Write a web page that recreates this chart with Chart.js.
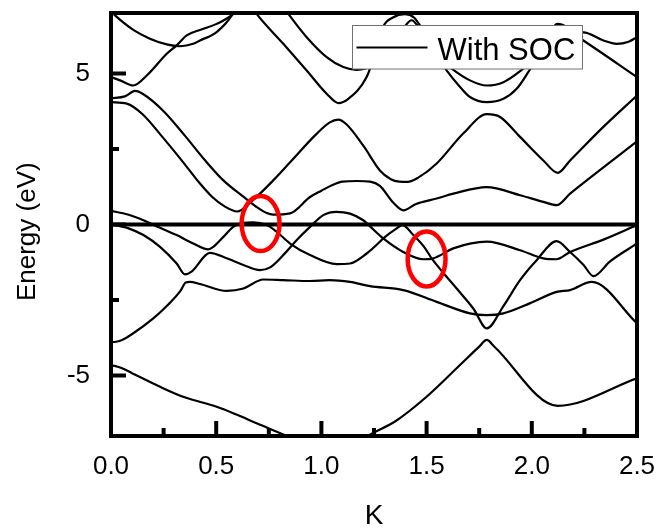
<!DOCTYPE html>
<html>
<head>
<meta charset="utf-8">
<script src="https://cdn.jsdelivr.net/npm/chart.js@4.4.1/dist/chart.umd.min.js"></script>
<style>
  html, body { margin: 0; padding: 0; background: #fff; }
  #wrap { width: 660px; height: 531px; position: relative; }
</style>
</head>
<body>
<div id="wrap"><canvas id="bands"></canvas></div>
<script>
// Band energies E (eV) sampled along the k path, one pair of arrays per band
const k1 = [0, 0.05, 0.1, 0.233, 0.35, 0.502, 0.6, 0.692, 0.835, 0.95, 1.05, 1.15, 1.231, 1.35, 1.5, 1.65, 1.75, 1.786, 1.82, 2.123, 2.5];
const e1 = [-4.65, -4.75, -4.92, -5.37, -5.72, -6.03, -6.3, -6.58, -7.0, -7.4, -7.55, -7.35, -6.96, -6.52, -5.70, -4.71, -4.04, -3.82, -4.03, -6.0, -5.09];

const k2 = [0, 0.05, 0.106, 0.201, 0.265, 0.33, 0.355, 0.375, 0.423, 0.55, 0.629, 0.724, 0.819, 0.946, 1.04, 1.136, 1.231, 1.389, 1.548, 1.706, 1.786, 1.865, 1.99, 2.118, 2.182, 2.285, 2.5];
const e2 = [-3.91, -3.83, -3.6, -3.11, -2.7, -2.2, -1.92, -1.9, -1.97, -2.2, -2.12, -1.82, -1.84, -1.87, -1.84, -1.9, -2.04, -2.17, -2.56, -2.94, -3.0, -2.94, -2.61, -2.23, -2.17, -1.9, -3.27];

const k3 = [0, 0.08, 0.154, 0.233, 0.312, 0.352, 0.383, 0.47, 0.55, 0.629, 0.708, 0.756, 0.819, 0.882, 0.946, 1.009, 1.072, 1.136, 1.199, 1.231, 1.294, 1.389, 1.484, 1.532, 1.627, 1.786, 1.944, 2.055, 2.118, 2.182, 2.341, 2.5];
const e3 = [0.01, -0.12, -0.35, -0.74, -1.29, -1.65, -1.56, -0.94, -1.12, -1.34, -1.51, -1.42, -1.01, -0.52, -0.08, 0.31, 0.42, 0.36, 0.14, -0.06, -0.46, -0.91, -1.15, -1.12, -0.79, -0.57, -0.85, -1.12, -1.15, -0.91, -0.50, -0.02];

const k4 = [0, 0.08, 0.154, 0.23, 0.312, 0.391, 0.462, 0.486, 0.534, 0.581, 0.621, 0.676, 0.74, 0.787, 0.851, 0.946, 1.072, 1.136, 1.215, 1.278, 1.294, 1.358, 1.385, 1.437, 1.488, 1.524, 1.571, 1.643, 1.722, 1.786, 1.865, 1.944, 2.023, 2.118, 2.182, 2.246, 2.293, 2.372, 2.5];
const e4 = [0.45, 0.33, 0.14, -0.1, -0.35, -0.63, -0.82, -0.74, -0.41, -0.08, 0.05, 0.07, -0.02, -0.24, -0.63, -1.01, -1.31, -1.29, -0.96, -0.57, -0.46, -0.13, -0.02, -0.35, -0.74, -1.12, -1.53, -2.12, -2.78, -3.44, -2.7, -1.84, -1.18, -0.55, -0.91, -1.34, -1.71, -1.22, -0.63];

const k5 = [0, 0.075, 0.15, 0.25, 0.35, 0.42, 0.48, 0.54, 0.6, 0.664, 0.771, 0.85, 0.977, 1.04, 1.08, 1.12, 1.2, 1.278, 1.33, 1.37, 1.41, 1.46, 1.548, 1.674, 1.786, 1.849, 1.944, 2.055, 2.123, 2.182, 2.34, 2.5];
const e5 = [4.05, 4.0, 3.65, 2.85, 2.0, 1.38, 0.92, 0.6, 0.43, 0.74, 1.46, 2.05, 3.0, 3.38, 3.47, 3.31, 2.6, 1.79, 1.5, 1.42, 1.41, 1.55, 2.02, 3.01, 3.65, 3.56, 2.9, 2.12, 1.71, 2.12, 3.23, 4.27];

const k6 = [0, 0.066, 0.114, 0.154, 0.25, 0.35, 0.45, 0.534, 0.629, 0.692, 0.74, 0.771, 0.851, 0.946, 1.0, 1.05, 1.1, 1.17, 1.231, 1.278, 1.342, 1.389, 1.45, 1.548, 1.627, 1.786, 1.944, 2.055, 2.118, 2.182, 2.261, 2.5];
const e6 = [4.18, 4.24, 4.42, 4.31, 3.75, 2.95, 2.1, 1.46, 0.92, 0.58, 0.38, 0.33, 0.37, 0.91, 1.12, 1.3, 1.42, 1.44, 1.42, 1.28, 0.72, 0.47, 0.68, 0.86, 1.02, 1.24, 0.97, 0.75, 0.64, 1.02, 1.46, 2.75];

const k7 = [0, 0.043, 0.106, 0.17, 0.265, 0.312, 0.36, 0.423, 0.502, 0.581, 0.62];
const e7 = [4.88, 4.77, 4.6, 4.93, 5.65, 5.93, 6.26, 6.44, 6.64, 6.97, 7.3];

const k8 = [0, 0.019, 0.106, 0.185, 0.265, 0.328, 0.391, 0.423, 0.502, 0.574, 0.6];
const e8 = [7.05, 6.92, 6.44, 6.15, 5.96, 5.9, 5.98, 6.09, 6.37, 6.92, 7.3];

const k9 = [0.65, 0.692, 0.819, 0.93, 1.025, 1.08, 1.128, 1.215, 1.25, 1.294, 1.34, 1.397, 1.44, 1.469, 1.52, 1.595, 1.659, 1.706, 1.786, 1.865, 1.928, 1.983, 2.05, 2.123, 2.245, 2.5];
const e9 = [7.4, 6.97, 5.98, 5.10, 4.33, 4.02, 4.16, 4.88, 5.55, 6.55, 6.85, 6.96, 6.85, 6.58, 5.9, 5.10, 4.55, 4.22, 4.05, 4.16, 4.49, 5.04, 5.8, 6.64, 6.09, 4.88];

const k10 = [0.8, 0.843, 0.93, 1.025, 1.104, 1.167, 1.25, 1.33, 1.39, 1.429, 1.46, 1.52, 1.57, 1.619, 1.706, 1.786, 1.865, 1.96, 2.05, 2.12, 2.18, 2.245, 2.34, 2.403, 2.46, 2.5];
const e10 = [7.4, 6.97, 6.2, 5.54, 5.21, 5.12, 5.3, 5.9, 6.5, 6.76, 6.55, 5.9, 5.45, 5.16, 4.77, 4.6, 4.71, 5.16, 5.7, 6.1, 6.3, 6.36, 6.09, 5.98, 6.05, 6.2];

// Fermi level reference line
const fermiK = [0, 2.5];
const fermiE = [0, 0];

// Axis tick labels
const kTicks = [0, 0.5, 1.0, 1.5, 2.0, 2.5];
const eTicks = [-5, 0, 5];

const seriesLabel = 'With SOC';

const FONT = '"Liberation Sans", Arial, Helvetica, sans-serif';
Chart.defaults.font.family = FONT;
Chart.defaults.color = '#000';

const bandK = [k1, k2, k3, k4, k5, k6, k7, k8, k9, k10];
const bandE = [e1, e2, e3, e4, e5, e6, e7, e8, e9, e10];

const datasets = bandK.map((ks, b) => ({
  label: b === 0 ? seriesLabel : '',
  data: ks.map((k, i) => ({ x: k, y: bandE[b][i] })),
  borderColor: '#000',
  borderWidth: 2.2,
  pointRadius: 0,
  fill: false,
  cubicInterpolationMode: 'monotone'
}));
datasets.push({
  label: '',
  data: fermiK.map((k, i) => ({ x: k, y: fermiE[i] })),
  borderColor: '#000',
  borderWidth: 4,
  pointRadius: 0,
  fill: false,
  tension: 0
});

// Keep the plot rectangle fixed: no extra room reserved for edge labels
function noEdgePadding(s) {
  s.paddingLeft = 0; s.paddingRight = 0; s.paddingTop = 0; s.paddingBottom = 0;
}

// Box frame plus inward major/minor tick marks on the bottom and left axes
const framePlugin = {
  id: 'framePlugin',
  afterDatasetsDraw(chart) {
    const { ctx, chartArea: a, scales: { x, y } } = chart;
    ctx.save();
    ctx.strokeStyle = '#000';
    ctx.lineCap = 'butt';
    ctx.lineWidth = 4;
    ctx.beginPath();
    const xs = x.ticks.map(t => t.value);
    xs.forEach((v, i) => {
      const p = x.getPixelForValue(v);
      ctx.moveTo(p, a.bottom); ctx.lineTo(p, a.bottom - 15);
      if (i < xs.length - 1) {
        const m = x.getPixelForValue((v + xs[i + 1]) / 2);
        ctx.moveTo(m, a.bottom); ctx.lineTo(m, a.bottom - 8);
      }
    });
    const ys = y.ticks.map(t => t.value);
    ys.forEach((v, i) => {
      const p = y.getPixelForValue(v);
      ctx.moveTo(a.left, p); ctx.lineTo(a.left + 15, p);
      if (i < ys.length - 1) {
        const m = y.getPixelForValue((v + ys[i + 1]) / 2);
        ctx.moveTo(a.left, m); ctx.lineTo(a.left + 8, m);
      }
    });
    ctx.stroke();
    ctx.strokeRect(a.left, a.top, a.right - a.left, a.bottom - a.top);
    ctx.restore();
  }
};

// Boxed legend inside the plot area, upper right
const boxLegend = {
  id: 'boxLegend',
  afterDraw(chart) {
    const { ctx, chartArea: a } = chart;
    const ds = chart.data.datasets[0];
    const w = 230, h = 43.5;
    const bx = a.right - 54.5 - w, by = a.top + 12.5;
    ctx.save();
    ctx.fillStyle = '#fff';
    ctx.fillRect(bx, by, w, h);
    ctx.strokeStyle = '#707070';
    ctx.lineWidth = 1;
    ctx.strokeRect(bx, by, w, h);
    ctx.strokeStyle = ds.borderColor;
    ctx.lineWidth = 2;
    ctx.beginPath();
    ctx.moveTo(bx + 4, by + 22);
    ctx.lineTo(bx + 75, by + 22);
    ctx.stroke();
    ctx.fillStyle = '#000';
    ctx.font = '31px ' + FONT;
    ctx.textBaseline = 'alphabetic';
    ctx.textAlign = 'left';
    ctx.fillText(ds.label, bx + 85, by + 34);
    ctx.restore();
  }
};

// Red ring highlights, placed in (k, E) coordinates
const ringMarks = {
  id: 'ringMarks',
  afterDraw(chart, args, opts) {
    const { ctx, scales: { x, y } } = chart;
    ctx.save();
    ctx.strokeStyle = opts.color;
    ctx.lineWidth = opts.width;
    opts.rings.forEach(r => {
      const cx = x.getPixelForValue(r.k), cy = y.getPixelForValue(r.e);
      const rx = Math.abs(x.getPixelForValue(r.k + r.dk) - cx);
      const ry = Math.abs(y.getPixelForValue(r.e + r.de) - cy);
      ctx.beginPath();
      ctx.ellipse(cx, cy, rx, ry, 0, 0, Math.PI * 2);
      ctx.stroke();
    });
    ctx.restore();
  }
};

new Chart(document.getElementById('bands'), {
  type: 'line',
  data: { datasets },
  plugins: [framePlugin, boxLegend, ringMarks],
  options: {
    responsive: true,
    maintainAspectRatio: false,
    animation: false,
    devicePixelRatio: 1,
    layout: { padding: { left: 0, top: 13, right: 23, bottom: 0 } },
    plugins: {
      legend: { display: false },
      tooltip: { enabled: false },
      ringMarks: {
        color: '#ff0000',
        width: 4.5,
        rings: [
          { k: 0.711, e: 0.03, dk: 0.09, de: 0.91 },
          { k: 1.50, e: -1.14, dk: 0.09, de: 0.91 }
        ]
      }
    },
    scales: {
      x: {
        type: 'linear',
        min: 0, max: 2.5,
        grid: { display: false, drawTicks: false },
        border: { display: false },
        afterBuildTicks: s => { s.ticks = kTicks.map(v => ({ value: v })); },
        afterFit: s => { s.height = 95; noEdgePadding(s); },
        ticks: {
          padding: 18,
          color: '#000',
          maxRotation: 0,
          autoSkip: false,
          font: { size: 26, lineHeight: 1 },
          callback: v => Number(v).toFixed(1)
        },
        title: {
          display: true, text: 'K', color: '#000',
          font: { size: 28, lineHeight: 1 },
          padding: { top: 0, bottom: 1 }
        }
      },
      y: {
        type: 'linear',
        min: -7, max: 7,
        grid: { display: false, drawTicks: false },
        border: { display: false },
        afterBuildTicks: s => { s.ticks = eTicks.map(v => ({ value: v })); },
        afterFit: s => { s.width = 111; noEdgePadding(s); },
        ticks: {
          padding: 21,
          color: '#000',
          autoSkip: false,
          font: { size: 26, lineHeight: 1 },
          callback: v => String(v)
        },
        title: {
          display: true, text: 'Energy (eV)  ', color: '#000',
          font: { size: 26, lineHeight: 1 },
          padding: { top: 14.5, bottom: 0 }
        }
      }
    }
  }
});
</script>
</body>
</html>
